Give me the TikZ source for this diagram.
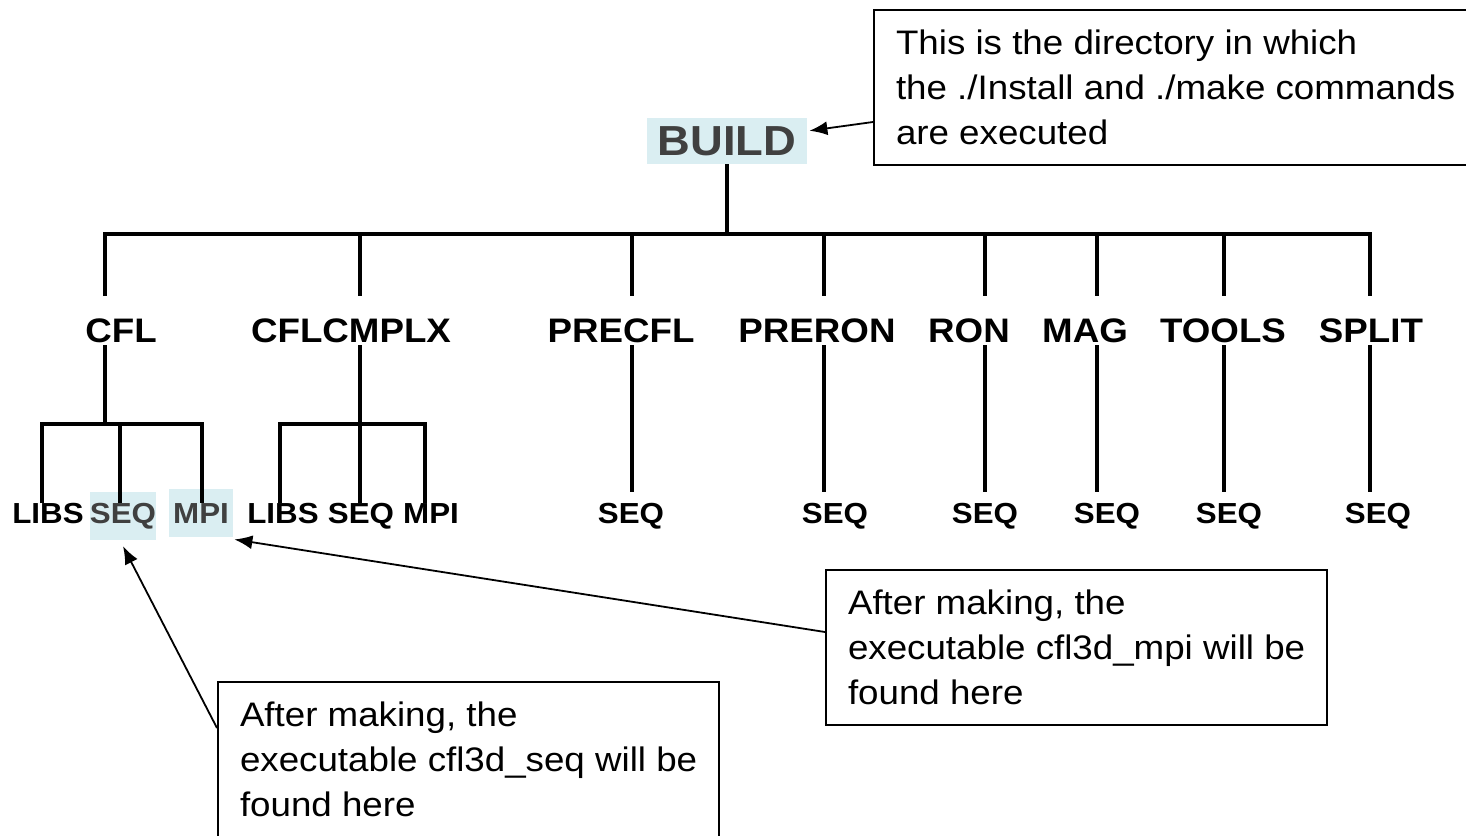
\documentclass[tikz,border=0pt]{standalone}
\usepackage{fontspec}
\setmainfont{Liberation Sans}[FakeStretch=1.08]
\usepackage{xcolor}
\usetikzlibrary{arrows.meta, calc, positioning}

\definecolor{hlfill}{RGB}{218,238,242}
\definecolor{hltext}{RGB}{64,64,64}

\tikzset{
    root/.style={font=\fontsize{21}{24}\selectfont\bfseries, fill=hlfill, text=hltext,
        inner sep=0pt, minimum width=80pt, minimum height=23pt, anchor=base},
    dir/.style={font=\fontsize{17}{20}\selectfont\bfseries, inner sep=0pt, anchor=base},
    subdir/.style={font=\fontsize{14.5}{17}\selectfont\bfseries, inner sep=0pt, anchor=base},
    marked/.style={fill=hlfill, text=hltext, minimum width=32pt, minimum height=24pt},
    branch/.style={line width=2.1pt},
    note/.style={draw, line width=1pt, align=left, anchor=north west,
        inner xsep=11pt, inner ysep=10pt, font=\fontsize{17}{22.5}\selectfont},
    pointer/.style={line width=0.9pt, -{Latex[length=9pt, width=7pt]}},
}

\begin{document}
\begin{tikzpicture}[x=0.5pt, y=-0.5pt]
    \clip (0,0) rectangle (1466,835);

    % 1. Thu muc goc
    \node[root] (build) at (727,155) {BUILD};

    % 2. Cac thu muc cap mot
    \node[dir] (cfl)      at (121,342)  {CFL};
    \node[dir] (cflcmplx) at (351,342)  {CFLCMPLX};
    \node[dir] (precfl)   at (621,342)  {PRECFL};
    \node[dir] (preron)   at (817,342)  {PRERON};
    \node[dir] (ron)      at (969,342)  {RON};
    \node[dir] (mag)      at (1085,342) {MAG};
    \node[dir] (tools)    at (1223,342) {TOOLS};
    \node[dir] (split)    at (1371,342) {SPLIT};

    % 3. Cac thu muc cap hai
    \node[subdir]         (cfllibs) at (48,523)  {LIBS};
    \node[subdir, marked] (cflseq)  at (123,523) {SEQ};
    \node[subdir, marked] (cflmpi)  at (201,523) {MPI};
    \node[subdir] (cxlibs) at (283,523) {LIBS};
    \node[subdir] (cxseq)  at (361,523) {SEQ};
    \node[subdir] (cxmpi)  at (431,523) {MPI};
    \foreach \x/\name in {631/precfl, 835/preron, 985/ron, 1107/mag, 1229/tools, 1378/split}
        \node[subdir] (\name-seq) at (\x,523) {SEQ};

    % 4. Cay thu muc
    \draw[branch] (build.south) -- (build.south |- 0,234);
    \draw[branch] (105,296) -- (105,234) -- (1370,234) -- (1370,296);
    \foreach \x in {360, 632, 824, 985, 1097, 1224}
        \draw[branch] (\x,234) -- (\x,296);
    \foreach \x in {632, 824, 985, 1097, 1224, 1370}
        \draw[branch] (\x,345) -- (\x,492);

    % CFL va CFLCMPLX tach thanh LIBS, SEQ, MPI
    \draw[branch] (105,345) -- (105,424);
    \draw[branch] (42,503) -- (42,424) -- (202,424) -- (202,503);
    \draw[branch] (120,424) -- (120,503);
    \draw[branch] (360,345) -- (360,424);
    \draw[branch] (280,503) -- (280,424) -- (425,424) -- (425,503);
    \draw[branch] (360,424) -- (360,503);

    % 5. Cac ghi chu
    \node[note] (buildnote) at (873,9)
        {This is the directory in which\\the ./Install and ./make commands\\are executed};
    \node[note] (mpinote) at (825,569)
        {After making, the\\executable cfl3d\_mpi will be\\found here};
    \node[note] (seqnote) at (217,681)
        {After making, the\\executable cfl3d\_seq will be\\found here};

    \draw[pointer] ($(buildnote.north west)+(0,113)$) -- ($(build.east)+(2,-10)$);
    \draw[pointer] ($(mpinote.north west)+(0,63)$) -- ($(cflmpi.south east)+(1,2)$);
    \draw[pointer] ($(seqnote.north west)+(0,47)$) -- ($(cflseq.south)+(0,6)$);
\end{tikzpicture}
\end{document}
